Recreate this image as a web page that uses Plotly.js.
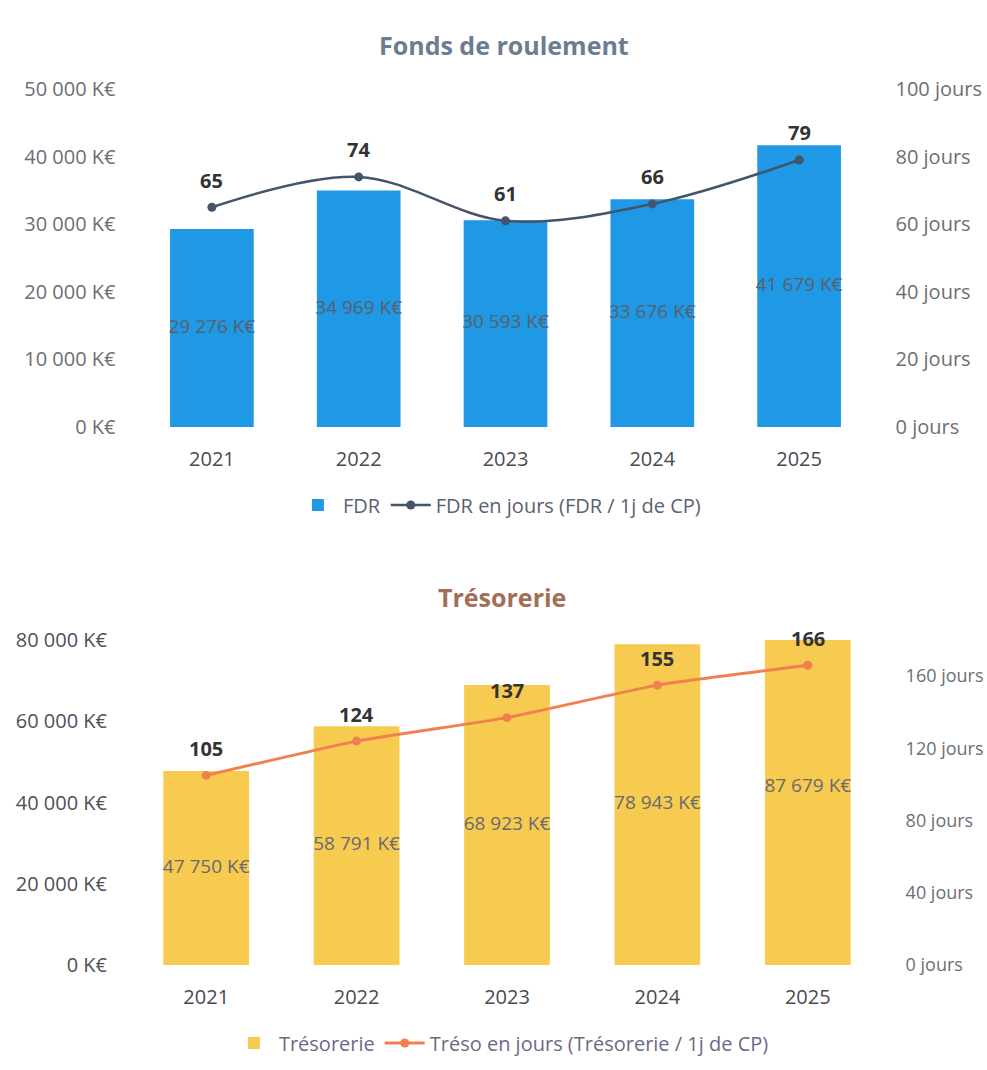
<!DOCTYPE html>
<html>
<head>
<meta charset="utf-8">
<script src="https://cdn.plot.ly/plotly-3.0.1.min.js"></script>
<style>
  html, body { margin: 0; padding: 0; background: #ffffff; }
  #chart { width: 987px; height: 1070px; }
</style>
</head>
<body>
<div id="chart"></div>
<script>
// ---- Data ----
const years = ['2021', '2022', '2023', '2024', '2025'];
const fdrValues = [29276, 34969, 30593, 33676, 41679];       // K€
const fdrDays = [65, 74, 61, 66, 79];                         // jours
const tresoValues = [47750, 58791, 68923, 78943, 87679];      // K€
const tresoDays = [105, 124, 137, 155, 166];                  // jours

const fmtK = v => v.toString().replace(/\B(?=(\d{3})+(?!\d))/g, ' ') + ' K€';
const FONT = '"Open Sans", Lato, sans-serif';

const traces = [
  // Top chart: FDR bars
  {
    type: 'bar', x: years, y: fdrValues, name: 'FDR',
    xaxis: 'x', yaxis: 'y', width: 0.57,
    marker: { color: '#1f98e5' },
    hoverinfo: 'none', legend: 'legend'
  },
  {
    type: 'scatter', mode: 'text', x: years, y: fdrValues.map(v => v / 2),
    text: fdrValues.map(fmtK), textposition: 'middle center',
    textfont: { family: FONT, size: 19, color: '#5b6068' },
    xaxis: 'x', yaxis: 'y', showlegend: false, hoverinfo: 'none'
  },
  {
    type: 'scatter', mode: 'lines+markers', x: years, y: fdrDays,
    name: 'FDR en jours (FDR / 1j de CP)',
    xaxis: 'x', yaxis: 'y2',
    line: { color: '#44546a', width: 2.5, shape: 'spline', smoothing: 1 },
    marker: { color: '#44546a', size: 9 },
    hoverinfo: 'none', legend: 'legend'
  },
  // Bottom chart: Trésorerie bars
  {
    type: 'bar', x: years, y: tresoValues, name: 'Trésorerie',
    xaxis: 'x2', yaxis: 'y3', width: 0.57,
    marker: { color: '#f6cb50' },
    hoverinfo: 'none', legend: 'legend2'
  },
  {
    type: 'scatter', mode: 'text', x: years, y: tresoValues.map(v => v / 2),
    text: tresoValues.map(fmtK), textposition: 'middle center',
    textfont: { family: FONT, size: 19, color: '#6a6a72' },
    xaxis: 'x2', yaxis: 'y3', showlegend: false, hoverinfo: 'none', cliponaxis: false
  },
  {
    type: 'scatter', mode: 'lines+markers', x: years, y: tresoDays,
    name: 'Tréso en jours (Trésorerie / 1j de CP)',
    xaxis: 'x2', yaxis: 'y4',
    line: { color: '#f0804f', width: 3, shape: 'spline', smoothing: 0.4 },
    marker: { color: '#f0804f', size: 9 },
    hoverinfo: 'none', legend: 'legend2'
  }
];

const annotations = [];
years.forEach((yr, i) => {
  annotations.push({
    x: i, y: fdrDays[i], xref: 'x', yref: 'y2', text: '<b>' + fdrDays[i] + '</b>',
    showarrow: false, yshift: 27, font: { family: FONT, size: 20, color: '#333333' }
  });
  annotations.push({
    x: i, y: tresoDays[i], xref: 'x2', yref: 'y4', text: '<b>' + tresoDays[i] + '</b>',
    showarrow: false, yshift: 27, font: { family: FONT, size: 20, color: '#333333' }
  });
});
annotations.push({
  text: '<b>Fonds de roulement</b>', xref: 'paper', yref: 'paper', x: 0.511, y: 1 - 45 / 1070,
  yanchor: 'middle', showarrow: false, font: { family: FONT, size: 25, color: '#6b7c93' }
});
annotations.push({
  text: '<b>Trésorerie</b>', xref: 'paper', yref: 'paper', x: 0.509, y: 1 - 597 / 1070,
  yanchor: 'middle', showarrow: false, font: { family: FONT, size: 25, color: '#a26e55' }
});

const tickFont = { family: FONT, size: 20, color: '#6e6e74' };
const hidden = { showgrid: false, zeroline: false, showline: false };

const layout = {
  width: 987, height: 1070,
  margin: { l: 0, r: 0, t: 0, b: 0 },
  paper_bgcolor: '#ffffff', plot_bgcolor: '#ffffff',
  separators: ', ',
  font: { family: FONT },
  xaxis: Object.assign({}, hidden, {
    domain: [138.5 / 987, 872.5 / 987], anchor: 'y', type: 'category', range: [-0.5, 4.5],
    tickfont: { family: FONT, size: 20, color: '#4a4a4f' },
    ticks: 'outside', ticklen: 14, tickcolor: 'rgba(0,0,0,0)'
  }),
  yaxis: Object.assign({}, hidden, {
    domain: [1 - 427 / 1070, 1 - 89 / 1070], anchor: 'x',
    range: [0, 50000], dtick: 10000, tickformat: ',d', ticksuffix: ' K€',
    tickfont: tickFont, ticks: 'outside', ticklen: 18, tickcolor: 'rgba(0,0,0,0)'
  }),
  yaxis2: Object.assign({}, hidden, {
    domain: [1 - 427 / 1070, 1 - 89 / 1070], anchor: 'x', overlaying: 'y', side: 'right',
    range: [0, 100], dtick: 20, ticksuffix: ' jours',
    tickfont: tickFont, ticks: 'outside', ticklen: 18, tickcolor: 'rgba(0,0,0,0)'
  }),
  xaxis2: Object.assign({}, hidden, {
    domain: [131 / 987, 883 / 987], anchor: 'y3', type: 'category', range: [-0.5, 4.5],
    tickfont: { family: FONT, size: 20, color: '#4a4a4f' },
    ticks: 'outside', ticklen: 14, tickcolor: 'rgba(0,0,0,0)'
  }),
  yaxis3: Object.assign({}, hidden, {
    domain: [1 - 965 / 1070, 1 - 640 / 1070], anchor: 'x2',
    range: [0, 80000], dtick: 20000, tickformat: ',d', ticksuffix: ' K€',
    tickfont: { family: FONT, size: 20, color: '#505058' },
    ticks: 'outside', ticklen: 19, tickcolor: 'rgba(0,0,0,0)'
  }),
  yaxis4: Object.assign({}, hidden, {
    domain: [1 - 965 / 1070, 1 - 640 / 1070], anchor: 'x2', overlaying: 'y3', side: 'right',
    range: [0, 180], dtick: 40, ticksuffix: ' jours',
    tickfont: { family: FONT, size: 18, color: '#6e6e74' },
    ticks: 'outside', ticklen: 18, tickcolor: 'rgba(0,0,0,0)'
  }),
  legend: {
    orientation: 'h', x: 0.506, xanchor: 'center', y: 1 - 505 / 1070, yanchor: 'middle',
    font: { family: FONT, size: 20, color: '#5b6270' }, itemwidth: 40, traceorder: 'normal'
  },
  legend2: {
    orientation: 'h', x: 0.508, xanchor: 'center', y: 1 - 1043 / 1070, yanchor: 'middle',
    font: { family: FONT, size: 20, color: '#6a6a86' }, itemwidth: 40, traceorder: 'normal'
  },
  annotations: annotations,
  showlegend: true
};

Plotly.newPlot('chart', traces, layout, { displayModeBar: false, staticPlot: true });
</script>
</body>
</html>
